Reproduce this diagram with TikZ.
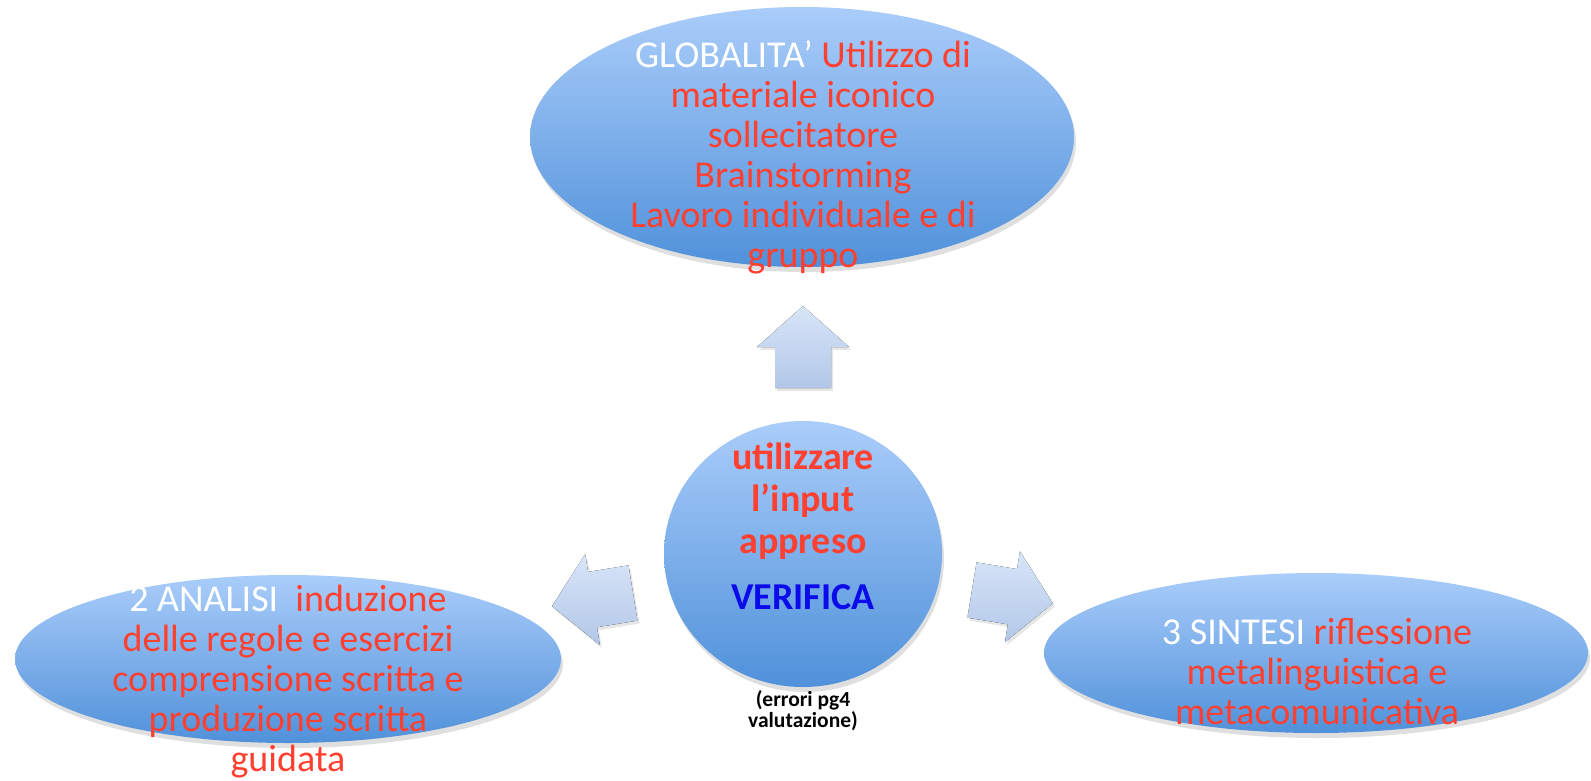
\documentclass[tikz,border=0pt]{standalone}
\usepackage{fontspec}
\setmainfont{Carlito}
\usetikzlibrary{shapes.geometric, shadows}

\definecolor{bubtop}{RGB}{170,205,250}
\definecolor{bubbot}{RGB}{80,145,218}
\definecolor{arrtop}{RGB}{216,229,248}
\definecolor{arrbot}{RGB}{178,199,232}
\definecolor{txtred}{RGB}{255,64,48}
\definecolor{txtblue}{RGB}{10,10,235}

\tikzset{
    bubble/.style={ellipse, inner sep=0pt, top color=bubtop, bottom color=bubbot,
        drop shadow={shadow xshift=2pt, shadow yshift=-5pt, opacity=.25}},
    bigtxt/.style={align=center, inner sep=0pt, text=txtred, font=\fontsize{38}{40}\selectfont},
    blockarrow/.style={top color=arrtop, bottom color=arrbot,
        drop shadow={shadow xshift=2pt, shadow yshift=-3pt, opacity=.2}}
}

\begin{document}
\begin{tikzpicture}[x=1pt, y=-1pt]
    \useasboundingbox (0,0) rectangle (1591,780);

    % ovals and circle
    \node[bubble, minimum width=544pt, minimum height=260pt] (glob) at (802,137) {};
    \node[bubble, minimum width=546pt, minimum height=168pt] (anal) at (288,659) {};
    \node[bubble, minimum width=544pt, minimum height=160pt] (sint) at (1316,653) {};
    \node[bubble, minimum width=278pt, minimum height=266pt] (inp) at (803,554) {};

    % block arrows
    \foreach \px/\py/\ang in {803/388/90, 633/593/189.2, 972/590/-9.4}
        \fill[blockarrow, shift={(\px,\py)}, rotate=\ang]
            (0,28) -- (41,28) -- (41,46) -- (82,0) -- (41,-46) -- (41,-28) -- (0,-28) -- cycle;

    % texts
    \node[bigtxt] (globtxt) at (803,157)
        {{\color{white}GLOBALITA’} Utilizzo di\\materiale iconico\\sollecitatore\\Brainstorming\\Lavoro individuale e di\\gruppo};
    \node[bigtxt] (analtxt) at (288,682)
        {{\color{white}2 ANALISI\ \ }induzione\\delle regole e esercizi\\comprensione scritta e\\produzione scritta\\guidata};
    \node[bigtxt] (sinttxt) at (1317,672)
        {{\color{white}3 SINTESI} riflessione\\metalinguistica e\\metacomunicativa};
    \node[bigtxt, font=\bfseries\fontsize{38}{42}\selectfont] (inptxt) at (803,526)
        {utilizzare\\l’input\\appreso\\[14pt]{\color{txtblue}VERIFICA}};
    \node[align=center, inner sep=0pt, font=\bfseries\fontsize{21.5}{21}\selectfont] (errtxt) at (803,711)
        {(errori pg4\\valutazione)};
\end{tikzpicture}
\end{document}
